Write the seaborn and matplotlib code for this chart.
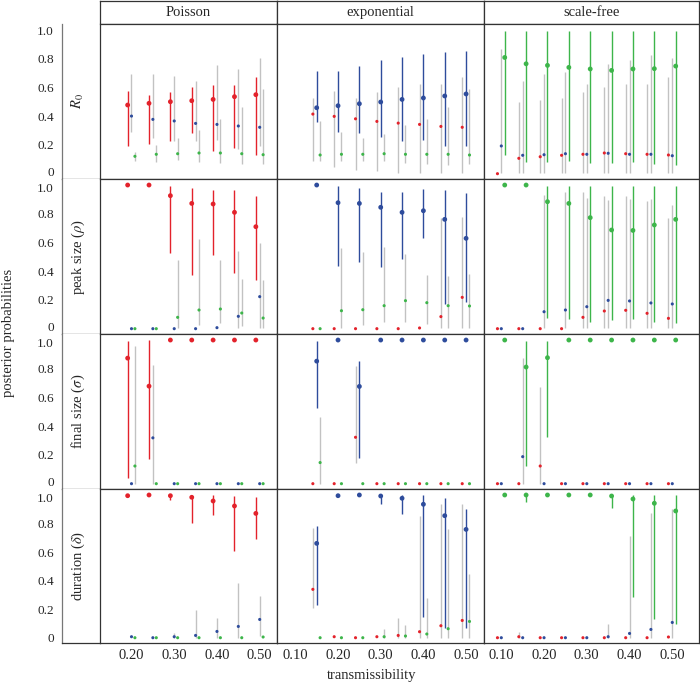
import numpy as np
import pandas as pd
import matplotlib
matplotlib.use("Agg")
import matplotlib.pyplot as plt
import matplotlib.transforms as mtransforms
import seaborn as sns

# ------------------------------------------------------------
# data: posterior probability (median, lower, upper) per transmissibility
# rows = summary statistic, columns = true network, keys = fitted model
# ------------------------------------------------------------
x_poisson = [0.20, 0.25, 0.30, 0.35, 0.40, 0.45, 0.50]
x_exponential = [0.15, 0.20, 0.25, 0.30, 0.35, 0.40, 0.45, 0.50]
x_scalefree = [0.10, 0.15, 0.20, 0.25, 0.30, 0.35, 0.40, 0.45, 0.50]

# R0
r0_poisson = {
    "Poisson": ([0.478, 0.490, 0.501, 0.508, 0.517, 0.536, 0.550],
                [0.195, 0.206, 0.230, 0.285, 0.158, 0.176, 0.130],
                [0.575, 0.548, 0.568, 0.601, 0.619, 0.617, 0.670]),
    "exponential": ([0.401, 0.378, 0.367, 0.350, 0.343, 0.332, 0.323],
                    [0.292, 0.251, 0.227, 0.230, 0.235, 0.172, 0.195],
                    [0.694, 0.694, 0.678, 0.643, 0.756, 0.728, 0.805]),
    "scale-free": ([0.121, 0.135, 0.139, 0.144, 0.144, 0.139, 0.132],
                   [0.088, 0.084, 0.095, 0.079, 0.072, 0.065, 0.065],
                   [0.153, 0.197, 0.248, 0.304, 0.383, 0.462, 0.589]),
}
r0_exponential = {
    "Poisson": ([0.415, 0.399, 0.382, 0.364, 0.352, 0.343, 0.329, 0.323],
                [0.088, 0.044, 0.026, 0.021, 0.002, 0.007, 0.002, 0.007],
                [0.524, 0.578, 0.528, 0.571, 0.606, 0.622, 0.622, 0.670]),
    "exponential": ([0.459, 0.473, 0.487, 0.499, 0.517, 0.527, 0.541, 0.555],
                    [0.362, 0.288, 0.285, 0.258, 0.230, 0.234, 0.193, 0.193],
                    [0.717, 0.717, 0.752, 0.791, 0.814, 0.833, 0.847, 0.854]),
    "scale-free": ([0.130, 0.135, 0.135, 0.139, 0.135, 0.135, 0.135, 0.130],
                   [0.088, 0.088, 0.088, 0.090, 0.077, 0.067, 0.060, 0.065],
                   [0.366, 0.292, 0.251, 0.278, 0.339, 0.383, 0.462, 0.589]),
}
r0_scalefree = {
    "Poisson": ([0.000, 0.107, 0.118, 0.128, 0.135, 0.144, 0.139, 0.135, 0.130],
                [0.000, 0.002, 0.002, 0.002, 0.002, 0.002, 0.002, 0.002, 0.002],
                [0.000, 0.497, 0.513, 0.529, 0.571, 0.606, 0.622, 0.622, 0.670]),
    "exponential": ([0.193, 0.128, 0.132, 0.139, 0.135, 0.142, 0.135, 0.135, 0.125],
                    [0.002, 0.002, 0.002, 0.002, 0.002, 0.002, 0.002, 0.002, 0.002],
                    [0.865, 0.645, 0.694, 0.710, 0.622, 0.761, 0.791, 0.828, 0.803]),
    "scale-free": ([0.809, 0.765, 0.754, 0.740, 0.729, 0.719, 0.729, 0.731, 0.749],
                   [0.130, 0.084, 0.084, 0.090, 0.072, 0.072, 0.084, 0.065, 0.060],
                   [0.993, 0.993, 0.993, 0.993, 0.993, 0.993, 0.993, 0.993, 0.993]),
}

# peak size
peak_poisson = {
    "Poisson": ([1.000, 1.000, 0.926, 0.872, 0.868, 0.810, 0.710],
                [1.000, 1.000, 0.524, 0.374, 0.515, 0.390, 0.339],
                [1.000, 1.000, 0.995, 0.981, 0.965, 0.965, 0.923]),
    "exponential": ([0.000, 0.000, 0.000, 0.000, 0.007, 0.086, 0.223],
                    [0.000, 0.000, 0.000, 0.000, 0.007, 0.007, 0.007],
                    [0.000, 0.000, 0.000, 0.000, 0.007, 0.543, 0.594]),
    "scale-free": ([0.000, 0.000, 0.079, 0.130, 0.137, 0.109, 0.074],
                   [0.000, 0.000, 0.007, 0.023, 0.042, 0.021, 0.007],
                   [0.000, 0.000, 0.478, 0.624, 0.478, 0.346, 0.339]),
}
peak_exponential = {
    "Poisson": ([0.000, 0.000, 0.000, 0.000, 0.000, 0.005, 0.084, 0.218],
                [0.000, 0.000, 0.000, 0.000, 0.000, 0.005, 0.007, 0.007],
                [0.000, 0.000, 0.000, 0.000, 0.000, 0.005, 0.768, 0.780]),
    "exponential": ([1.000, 0.877, 0.872, 0.845, 0.810, 0.821, 0.761, 0.629],
                    [1.000, 0.436, 0.466, 0.432, 0.483, 0.629, 0.172, 0.188],
                    [1.000, 0.995, 0.977, 0.954, 0.949, 0.970, 0.965, 0.947]),
    "scale-free": ([0.000, 0.125, 0.132, 0.160, 0.195, 0.181, 0.160, 0.158],
                   [0.000, 0.007, 0.023, 0.049, 0.049, 0.030, 0.007, 0.007],
                   [0.000, 0.559, 0.536, 0.571, 0.517, 0.374, 0.369, 0.381]),
}
peak_scalefree = {
    "Poisson": ([0.000, 0.000, 0.000, 0.000, 0.079, 0.123, 0.128, 0.107, 0.072],
                [0.000, 0.000, 0.000, 0.000, 0.007, 0.007, 0.007, 0.007, 0.007],
                [0.000, 0.000, 0.000, 0.000, 0.949, 0.926, 0.923, 0.889, 0.773]),
    "exponential": ([0.000, 0.000, 0.118, 0.130, 0.153, 0.197, 0.193, 0.179, 0.172],
                    [0.000, 0.000, 0.007, 0.007, 0.007, 0.007, 0.007, 0.007, 0.007],
                    [0.000, 0.000, 0.930, 0.949, 0.912, 0.896, 0.900, 0.900, 0.861]),
    "scale-free": ([1.000, 1.000, 0.884, 0.872, 0.773, 0.687, 0.684, 0.722, 0.761],
                   [1.000, 1.000, 0.077, 0.065, 0.049, 0.060, 0.065, 0.049, 0.042],
                   [1.000, 1.000, 0.995, 0.995, 0.995, 0.995, 0.995, 0.995, 0.995]),
}

# final size
final_poisson = {
    "Poisson": ([0.874, 0.679, 1.000, 1.000, 1.000, 1.000, 1.000],
                [0.040, 0.170, 1.000, 1.000, 1.000, 1.000, 1.000],
                [0.990, 1.000, 1.000, 1.000, 1.000, 1.000, 1.000]),
    "exponential": ([0.000, 0.319, 0.000, 0.000, 0.000, 0.000, 0.000],
                    [0.000, 0.000, 0.000, 0.000, 0.000, 0.000, 0.000],
                    [0.000, 0.823, 0.000, 0.000, 0.000, 0.000, 0.000]),
    "scale-free": ([0.123, 0.000, 0.000, 0.000, 0.000, 0.000, 0.000],
                   [0.000, 0.000, 0.000, 0.000, 0.000, 0.000, 0.000],
                   [0.956, 0.000, 0.000, 0.000, 0.000, 0.000, 0.000]),
}
final_exponential = {
    "Poisson": ([0.000, 0.000, 0.323, 0.000, 0.000, 0.000, 0.000, 0.000],
                [0.000, 0.000, 0.142, 0.000, 0.000, 0.000, 0.000, 0.000],
                [0.000, 0.000, 0.819, 0.000, 0.000, 0.000, 0.000, 0.000]),
    "exponential": ([0.853, 1.000, 0.677, 1.000, 1.000, 1.000, 1.000, 1.000],
                    [0.528, 1.000, 0.179, 1.000, 1.000, 1.000, 1.000, 1.000],
                    [0.995, 1.000, 0.853, 1.000, 1.000, 1.000, 1.000, 1.000]),
    "scale-free": ([0.147, 0.000, 0.000, 0.000, 0.000, 0.000, 0.000, 0.000],
                   [0.000, 0.000, 0.000, 0.000, 0.000, 0.000, 0.000, 0.000],
                   [0.467, 0.000, 0.000, 0.000, 0.000, 0.000, 0.000, 0.000]),
}
final_scalefree = {
    "Poisson": ([0.000, 0.000, 0.123, 0.000, 0.000, 0.000, 0.000, 0.000, 0.000],
                [0.000, 0.000, 0.000, 0.000, 0.000, 0.000, 0.000, 0.000, 0.000],
                [0.000, 0.000, 0.672, 0.000, 0.000, 0.000, 0.000, 0.000, 0.000]),
    "exponential": ([0.000, 0.188, 0.000, 0.000, 0.000, 0.000, 0.000, 0.000, 0.000],
                    [0.000, 0.000, 0.000, 0.000, 0.000, 0.000, 0.000, 0.000, 0.000],
                    [0.000, 0.877, 0.000, 0.000, 0.000, 0.000, 0.000, 0.000, 0.000]),
    "scale-free": ([1.000, 0.812, 0.877, 1.000, 1.000, 1.000, 1.000, 1.000, 1.000],
                   [1.000, 0.121, 0.328, 1.000, 1.000, 1.000, 1.000, 1.000, 1.000],
                   [1.000, 0.995, 0.995, 1.000, 1.000, 1.000, 1.000, 1.000, 1.000]),
}

# duration
dur_poisson = {
    "Poisson": ([0.995, 1.000, 0.995, 0.984, 0.958, 0.923, 0.871],
                [0.995, 1.000, 0.965, 0.806, 0.860, 0.610, 0.689],
                [0.995, 1.000, 1.000, 0.995, 1.000, 0.995, 0.988]),
    "exponential": ([0.007, 0.000, 0.007, 0.016, 0.044, 0.079, 0.128],
                    [0.007, 0.000, 0.000, 0.000, 0.000, 0.000, 0.012],
                    [0.007, 0.000, 0.035, 0.194, 0.140, 0.381, 0.294]),
    "scale-free": ([0.000, 0.000, 0.000, 0.000, 0.000, 0.000, 0.005],
                   [0.000, 0.000, 0.000, 0.000, 0.000, 0.000, 0.005],
                   [0.000, 0.000, 0.000, 0.000, 0.000, 0.000, 0.005]),
}
dur_exponential = {
    "Poisson": ([0.339, 0.007, 0.000, 0.007, 0.016, 0.042, 0.084, 0.121],
                [0.210, 0.007, 0.000, 0.007, 0.000, 0.000, 0.000, 0.000],
                [0.766, 0.007, 0.000, 0.007, 0.140, 0.853, 0.935, 0.935]),
    "exponential": ([0.661, 0.995, 1.000, 0.993, 0.977, 0.935, 0.855, 0.759],
                    [0.229, 0.995, 1.000, 0.937, 0.864, 0.147, 0.065, 0.065],
                    [0.783, 0.995, 1.000, 1.000, 1.000, 1.000, 0.977, 0.900]),
    "scale-free": ([0.000, 0.000, 0.000, 0.007, 0.012, 0.026, 0.063, 0.114],
                   [0.000, 0.000, 0.000, 0.000, 0.000, 0.000, 0.000, 0.000],
                   [0.000, 0.000, 0.000, 0.061, 0.089, 0.276, 0.759, 0.446]),
}
dur_scalefree = {
    "Poisson": ([0.000, 0.007, 0.000, 0.000, 0.000, 0.000, 0.000, 0.000, 0.005],
                [0.000, 0.000, 0.000, 0.000, 0.000, 0.000, 0.000, 0.000, 0.005],
                [0.000, 0.042, 0.000, 0.000, 0.000, 0.000, 0.000, 0.000, 0.005]),
    "exponential": ([0.000, 0.000, 0.000, 0.000, 0.000, 0.007, 0.030, 0.058, 0.107],
                    [0.000, 0.000, 0.000, 0.000, 0.000, 0.000, 0.000, 0.000, 0.000],
                    [0.000, 0.000, 0.000, 0.000, 0.000, 0.093, 0.713, 0.876, 0.900]),
    "scale-free": ([1.000, 1.000, 1.000, 1.000, 1.000, 0.993, 0.972, 0.942, 0.888],
                   [1.000, 0.953, 1.000, 1.000, 1.000, 0.907, 0.287, 0.128, 0.096],
                   [1.000, 1.000, 1.000, 1.000, 1.000, 1.000, 1.000, 1.000, 1.000]),
}

networks = ["Poisson", "exponential", "scale-free"]
measures = ["R0", "peak", "final", "duration"]
row_labels = [r"$R_0$", r"peak size ($\rho$)", r"final size ($\sigma$)", r"duration ($\delta$)"]
x_values = {"Poisson": x_poisson, "exponential": x_exponential, "scale-free": x_scalefree}
panels = {
    ("R0", "Poisson"): r0_poisson, ("R0", "exponential"): r0_exponential, ("R0", "scale-free"): r0_scalefree,
    ("peak", "Poisson"): peak_poisson, ("peak", "exponential"): peak_exponential, ("peak", "scale-free"): peak_scalefree,
    ("final", "Poisson"): final_poisson, ("final", "exponential"): final_exponential, ("final", "scale-free"): final_scalefree,
    ("duration", "Poisson"): dur_poisson, ("duration", "exponential"): dur_exponential, ("duration", "scale-free"): dur_scalefree,
}

# long table
rows = []
for (meas, net), d in panels.items():
    for fit, (med, lo, hi) in d.items():
        for x, m, l, h in zip(x_values[net], med, lo, hi):
            rows.append(dict(measure=meas, network=net, fitted=fit, x=x, med=m, lo=l, hi=h))
df = pd.DataFrame(rows)

# ------------------------------------------------------------
# style
# ------------------------------------------------------------
sns.set_style("white")
plt.rcParams["font.family"] = "serif"
plt.rcParams["font.serif"] = ["Liberation Serif", "DejaVu Serif"]
plt.rcParams["mathtext.fontset"] = "stix"

palette = {"Poisson": "#E3222B", "exponential": "#2E4C9C", "scale-free": "#3DB54A"}
GREY = "#C2C2C2"
FRAME = "#333333"
dodge = {"Poisson": -0.009, "exponential": 0.0, "scale-free": 0.008}
df["xd"] = df["x"] + df["fitted"].map(dodge)

W, H = 700, 683
fig = plt.figure(figsize=(7, 6.83), dpi=100)


def box(x0, y0, x1, y1):
    return [x0 / W, 1 - y1 / H, (x1 - x0) / W, (y1 - y0) / H]


col_px = [100, 277, 484, 699]
row_px = [24, 179, 334, 489, 643]
xlims = {"Poisson": (0.1263, 0.5405), "exponential": (0.057, 0.542), "scale-free": (0.0595, 0.5625)}
YLIM = (-0.037, 1.042)
FS = 10

# column strips
for c, net in enumerate(networks):
    tax = fig.add_axes(box(col_px[c], 0.5, col_px[c + 1], row_px[0]))
    tax.set_xticks([])
    tax.set_yticks([])
    for s in tax.spines.values():
        s.set_color(FRAME)
        s.set_linewidth(0.9)
    tax.text(0.5, 0.5, net, ha="center", va="center", fontsize=FS + 0.5, transform=tax.transAxes)

for r, meas in enumerate(measures):
    # y axis + row label strip
    sax = fig.add_axes(box(62, row_px[r], 100, row_px[r + 1]))
    sax.set_xlim(0, 1)
    sax.set_ylim(YLIM)
    sax.set_xticks([])
    sax.set_yticks([0, 0.2, 0.4, 0.6, 0.8, 1.0])
    sax.set_yticklabels(["0", "0.2", "0.4", "0.6", "0.8", "1.0"])
    sax.tick_params(axis="y", length=4, width=0.8, color="#777777", pad=2, labelsize=9.5)
    # "0" of one row and "1.0" of the next sit very close: nudge them apart a little
    labs = sax.get_yticklabels()
    up = mtransforms.ScaledTranslation(0, 2.5 / 100, fig.dpi_scale_trans)
    down = mtransforms.ScaledTranslation(0, -2.5 / 100, fig.dpi_scale_trans)
    if r < len(measures) - 1:
        labs[0].set_transform(labs[0].get_transform() + up)
    if r > 0:
        labs[-1].set_transform(labs[-1].get_transform() + down)
    sax.spines["top"].set_visible(False)
    sax.spines["right"].set_visible(False)
    sax.spines["left"].set_color("#777777")
    sax.spines["left"].set_linewidth(0.9)
    sax.spines["bottom"].set_color(FRAME)
    sax.spines["bottom"].set_linewidth(0.9)
    sax.text(0.42, 0.5, row_labels[r], rotation=90, ha="center", va="center",
             fontsize=FS + 0.5, transform=sax.transAxes)

    for c, net in enumerate(networks):
        ax = fig.add_axes(box(col_px[c], row_px[r], col_px[c + 1], row_px[r + 1]))
        sub = df[(df["measure"] == meas) & (df["network"] == net)]

        # intervals: grey for wrong models, coloured for the true one
        for fit in networks:
            f = sub[(sub["fitted"] == fit) & (sub["hi"] - sub["lo"] > 0.004)]
            col = palette[fit] if fit == net else GREY
            ax.vlines(f["xd"], f["lo"], f["hi"], color=col, linewidth=1.0, zorder=2)

        others = sub[sub["fitted"] != net]
        true = sub[sub["fitted"] == net]
        sns.scatterplot(data=others, x="xd", y="med", hue="fitted", palette=palette,
                        s=5, linewidth=0, legend=False, ax=ax, zorder=3)
        sns.scatterplot(data=true, x="xd", y="med", hue="fitted", palette=palette,
                        s=12, linewidth=0, legend=False, ax=ax, zorder=4)

        ax.set_xlim(xlims[net])
        ax.set_ylim(YLIM)
        ax.set_yticks([])
        ax.set_xlabel("")
        ax.set_ylabel("")
        if r == len(measures) - 1:
            ticks = [0.2, 0.3, 0.4, 0.5] if net == "Poisson" else [0.1, 0.2, 0.3, 0.4, 0.5]
            ax.set_xticks(ticks)
            ax.set_xticklabels([f"{t:.2f}" for t in ticks])
            ax.tick_params(axis="x", length=0, pad=4, labelsize=FS + 0.5)
        else:
            ax.set_xticks([])
        for s in ax.spines.values():
            s.set_color(FRAME)
            s.set_linewidth(0.9)

fig.text(372 / W, 1 - 675 / H, "transmissibility", ha="center", va="center", fontsize=FS + 0.5)
fig.text(9 / W, 1 - 333 / H, "posterior probabilities", rotation=90, ha="center", va="center",
         fontsize=FS + 0.5)

fig.savefig("out.png", dpi=100)
